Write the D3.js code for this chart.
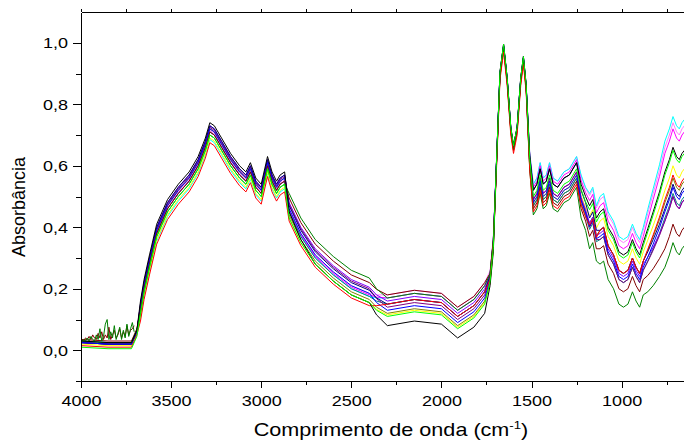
<!DOCTYPE html>
<html lang="pt">
  <head>
    <meta charset="UTF-8" />
    <title>Espectros FTIR</title>
    <script src="https://d3js.org/d3.v7.min.js"></script>
    <style>
      body { margin: 0; background: #fff; }
      svg { display: block; overflow: hidden; }
      .axis path, .axis line { stroke: #000; stroke-width: 1; shape-rendering: crispEdges; }
      .axis text { font-family: 'Liberation Sans', Arial, sans-serif; font-size: 15px; fill: #000; }
      .title { font-family: 'Liberation Sans', Arial, sans-serif; font-size: 18px; fill: #000; }
      .spectrum { fill: none; stroke-width: 1; }
    </style>
  </head>
  <body>
    <div id="chart"></div>
    <script>
      // wavenumber grid (cm-1), shared by every spectrum
      const wavenumbers = [4000, 3850, 3720, 3690, 3670, 3650, 3620, 3580, 3520, 3460, 3400, 3350, 3310, 3285, 3260, 3220, 3170, 3120, 3085, 3060, 3030, 3000, 2965, 2940, 2915, 2895, 2870,
        2845, 2780, 2700, 2600, 2500, 2400, 2360, 2300, 2150, 2000, 1910, 1820, 1760, 1730, 1712,
        1695, 1675, 1655, 1635, 1615, 1600, 1580, 1560, 1545, 1530,
        1510, 1490, 1470, 1452, 1435, 1418, 1400, 1380, 1355, 1320, 1290, 1250,
        1225, 1200, 1178, 1160, 1140,
        1120, 1100, 1075, 1045, 1015, 990, 965, 940, 920, 900, 880,
        855, 825, 790, 760, 735, 715, 695, 680, 665, 652];

      // absorbance of each sample
      const absBlack = [.03,.025,.025,.065,.16,.23,.31,.41,.49,.54,.58,.63,.69,.74,.73,.69,.64,.60,.58,.61,.56,.54,.63,.58,.55,.57,.58,
        .45,.36,.28,.225,.18,.155,.115,.08,.095,.085,.04,.075,.12,.21,.32,
        .605,.905,.995,.885,.725,.665,.725,.885,.955,.865,
        .633,.52,.54,.59,.54,.55,.59,.54,.53,.56,.57,.61,
        .54,.50,.47,.49,.43,
        .45,.46,.40,.37,.32,.31,.32,.36,.33,.31,.35,
        .395,.45,.515,.58,.62,.66,.63,.62,.64,.65];
      const absRed = [.015,.01,.01,.05,.095,.165,.245,.345,.425,.475,.515,.565,.625,.675,.665,.625,.575,.535,.515,.545,.495,.475,.565,.515,.485,.505,.515,
        .42,.34,.27,.215,.17,.145,.145,.15,.165,.155,.11,.145,.19,.23,.34,
        .58,.88,.97,.86,.70,.64,.70,.86,.93,.84,
        .585,.45,.47,.52,.47,.48,.52,.47,.46,.49,.50,.54,
        .473,.433,.407,.427,.367,
        .39,.40,.34,.31,.26,.25,.26,.30,.27,.25,.29,
        .328,.375,.433,.49,.53,.57,.54,.53,.55,.56];
      const absLime = [.01,.005,.005,.045,.12,.19,.27,.37,.45,.50,.54,.59,.65,.70,.69,.65,.60,.56,.54,.57,.52,.50,.59,.54,.51,.53,.54,
        .43,.35,.28,.225,.18,.155,.13,.11,.125,.115,.07,.105,.15,.223,.333,
        .605,.905,.995,.885,.725,.665,.725,.885,.955,.865,
        .623,.50,.52,.57,.52,.53,.57,.52,.51,.54,.55,.59,
        .523,.483,.457,.477,.417,
        .44,.45,.39,.36,.31,.30,.31,.35,.32,.30,.34,
        .385,.44,.505,.57,.61,.65,.62,.61,.63,.64];
      const absBlue = [.025,.02,.02,.06,.14,.21,.29,.39,.47,.52,.56,.61,.67,.72,.71,.67,.62,.58,.56,.59,.54,.52,.61,.56,.53,.55,.56,
        .46,.38,.31,.255,.21,.185,.155,.13,.145,.135,.09,.125,.17,.23,.34,
        .60,.90,.99,.88,.72,.66,.72,.88,.95,.86,
        .61,.48,.50,.55,.50,.51,.55,.50,.49,.52,.53,.57,
        .487,.447,.403,.423,.363,
        .37,.38,.32,.29,.24,.23,.24,.28,.25,.23,.27,
        .303,.345,.398,.45,.49,.53,.50,.49,.51,.52];
      const absCyan = [.03,.025,.025,.065,.105,.175,.255,.355,.435,.485,.525,.575,.635,.685,.675,.635,.585,.545,.525,.555,.505,.485,.575,.525,.495,.515,.525,
        .45,.37,.30,.245,.20,.175,.17,.17,.185,.175,.13,.165,.21,.25,.36,
        .60,.90,.99,.88,.72,.66,.72,.88,.95,.86,
        .64,.54,.56,.61,.56,.57,.61,.56,.55,.58,.59,.63,
        .57,.53,.51,.53,.47,
        .50,.51,.45,.42,.37,.36,.37,.41,.38,.36,.40,
        .458,.525,.603,.68,.72,.76,.73,.72,.74,.75];
      const absMagenta = [.025,.02,.02,.06,.13,.20,.28,.38,.46,.51,.55,.60,.66,.71,.70,.66,.61,.57,.55,.58,.53,.51,.60,.55,.52,.54,.55,
        .455,.375,.305,.25,.205,.18,.173,.17,.185,.175,.13,.165,.21,.25,.36,
        .60,.90,.99,.88,.72,.66,.72,.88,.95,.86,
        .635,.53,.55,.60,.55,.56,.60,.55,.54,.57,.58,.62,
        .553,.513,.487,.507,.447,
        .47,.48,.42,.39,.34,.33,.34,.38,.35,.33,.37,
        .425,.49,.565,.64,.68,.72,.69,.68,.70,.71];
      const absYellow = [.02,.015,.015,.055,.11,.18,.26,.36,.44,.49,.53,.58,.64,.69,.68,.64,.59,.55,.53,.56,.51,.49,.58,.53,.50,.52,.53,
        .43,.35,.28,.225,.18,.155,.133,.115,.13,.12,.075,.11,.155,.218,.328,
        .59,.89,.98,.87,.71,.65,.71,.87,.94,.85,
        .605,.48,.50,.55,.50,.51,.55,.50,.49,.52,.53,.57,
        .503,.463,.437,.457,.397,
        .42,.43,.37,.34,.29,.28,.29,.33,.30,.28,.32,
        .358,.405,.463,.52,.56,.60,.57,.56,.58,.59];
      const absOlive = [.025,.02,.02,.06,.14,.21,.29,.39,.47,.52,.56,.61,.67,.72,.71,.67,.62,.58,.56,.59,.54,.52,.61,.56,.53,.55,.56,
        .44,.36,.29,.235,.19,.165,.14,.12,.135,.125,.08,.115,.16,.223,.333,
        .595,.895,.985,.875,.715,.655,.715,.875,.945,.855,
        .603,.47,.49,.54,.49,.50,.54,.49,.48,.51,.52,.56,
        .487,.447,.413,.433,.373,
        .39,.40,.34,.31,.26,.25,.26,.30,.27,.25,.29,
        .325,.37,.425,.48,.52,.56,.53,.52,.54,.55];
      const absNavy = [.025,.02,.02,.06,.15,.22,.30,.40,.48,.53,.57,.62,.68,.73,.72,.68,.63,.59,.57,.60,.55,.53,.62,.57,.54,.56,.57,
        .47,.39,.32,.265,.22,.195,.17,.15,.165,.155,.11,.145,.19,.243,.353,
        .605,.905,.995,.885,.725,.665,.725,.885,.955,.865,
        .633,.52,.54,.59,.54,.55,.59,.54,.53,.56,.57,.61,
        .52,.48,.43,.45,.39,
        .39,.40,.34,.31,.26,.25,.26,.30,.27,.25,.29,
        .32,.36,.41,.46,.50,.54,.51,.50,.52,.53];
      const absPurple = [.025,.02,.02,.06,.145,.215,.295,.395,.475,.525,.565,.615,.675,.725,.715,.675,.625,.585,.565,.595,.545,.525,.615,.565,.535,.555,.565,
        .475,.395,.325,.27,.225,.20,.168,.14,.155,.145,.10,.135,.18,.235,.345,
        .60,.90,.99,.88,.72,.66,.72,.88,.95,.86,
        .615,.49,.51,.56,.51,.52,.56,.51,.50,.53,.54,.58,
        .49,.45,.40,.42,.36,
        .36,.37,.31,.28,.23,.22,.23,.27,.24,.22,.26,
        .288,.325,.373,.42,.46,.50,.47,.46,.48,.49];
      const absWine = [.035,.03,.03,.07,.13,.20,.28,.38,.46,.51,.55,.60,.66,.71,.70,.66,.61,.57,.55,.58,.53,.51,.60,.55,.52,.54,.55,
        .495,.415,.345,.29,.245,.22,.198,.18,.195,.185,.14,.175,.22,.25,.36,
        .59,.89,.98,.87,.71,.65,.71,.87,.94,.85,
        .595,.46,.48,.53,.48,.49,.53,.48,.47,.50,.51,.55,
        .46,.42,.37,.39,.33,
        .33,.34,.28,.25,.20,.19,.20,.24,.21,.19,.23,
        .243,.265,.298,.33,.37,.41,.38,.37,.39,.40];
      const absDarkGreen = [.03,.025,.025,.065,.12,.19,.27,.37,.45,.50,.54,.59,.65,.70,.69,.65,.60,.56,.54,.57,.52,.50,.59,.54,.51,.53,.54,
        .51,.43,.36,.305,.26,.235,.20,.17,.185,.175,.13,.165,.21,.248,.358,
        .595,.895,.985,.875,.715,.655,.715,.875,.945,.855,
        .588,.44,.46,.51,.46,.47,.51,.46,.45,.48,.49,.53,
        .43,.39,.33,.35,.29,
        .28,.29,.23,.20,.15,.14,.15,.19,.16,.14,.18,
        .19,.21,.24,.27,.31,.35,.32,.31,.33,.34];
      const absTeal = [.025,.02,.02,.06,.13,.20,.28,.38,.46,.51,.55,.60,.66,.71,.70,.66,.61,.57,.55,.58,.53,.51,.60,.55,.52,.54,.55,
        .45,.37,.30,.245,.20,.175,.16,.15,.165,.155,.11,.145,.19,.24,.35,
        .60,.90,.99,.88,.72,.66,.72,.88,.95,.86,
        .605,.47,.49,.54,.49,.50,.54,.49,.48,.51,.52,.56,
        .477,.437,.393,.413,.353,
        .36,.37,.31,.28,.23,.22,.23,.27,.24,.22,.26,
        .29,.33,.38,.43,.47,.51,.48,.47,.49,.50];
      const absViolet = [.025,.02,.02,.06,.15,.22,.30,.40,.48,.53,.57,.62,.68,.73,.72,.68,.63,.59,.57,.60,.55,.53,.62,.57,.54,.56,.57,
        .48,.40,.33,.275,.23,.205,.18,.16,.175,.165,.12,.155,.20,.245,.355,
        .60,.90,.99,.88,.72,.66,.72,.88,.95,.86,
        .615,.49,.51,.56,.51,.52,.56,.51,.50,.53,.54,.58,
        .497,.457,.413,.433,.373,
        .38,.39,.33,.30,.25,.24,.25,.29,.26,.24,.28,
        .303,.335,.378,.42,.46,.50,.47,.46,.48,.49];
      const absPink = [.03,.025,.025,.065,.135,.205,.285,.385,.465,.515,.555,.605,.665,.715,.705,.665,.615,.575,.555,.585,.535,.515,.605,.555,.525,.545,.555,
        .46,.38,.31,.255,.21,.185,.18,.18,.195,.185,.14,.175,.22,.258,.368,
        .605,.905,.995,.885,.725,.665,.725,.885,.955,.865,
        .643,.54,.56,.61,.56,.57,.61,.56,.55,.58,.59,.63,
        .567,.527,.503,.523,.463,
        .49,.50,.44,.41,.36,.35,.36,.40,.37,.35,.39,
        .445,.51,.585,.66,.70,.74,.71,.70,.72,.73];

      // noisy start (4000-3700 cm-1) of the two noisiest samples
      const noiseWavenumbers = [3995, 3985, 3975, 3965, 3955, 3945, 3935, 3925, 3915, 3905, 3895, 3885, 3875, 3865, 3855,
        3845, 3835, 3825, 3815, 3805, 3795, 3785, 3775, 3765, 3755, 3745, 3735, 3725, 3715, 3705];
      const noiseDarkGreen = [.03,.035,.03,.04,.03,.045,.035,.03,.05,.035,.07,.03,.045,.085,.10,
        .035,.06,.04,.08,.035,.055,.075,.035,.065,.04,.085,.045,.07,.09,.06];
      const noiseWine = [.035,.03,.04,.035,.045,.035,.05,.04,.035,.055,.04,.06,.035,.05,.04,
        .075,.035,.05,.065,.04,.05,.07,.04,.06,.045,.08,.05,.065,.07,.08];

      const yMajorTicks = [0, 0.2, 0.4, 0.6, 0.8, 1.0];
      const yMinorTicks = [-0.1, 0.1, 0.3, 0.5, 0.7, 0.9];
      const xMajorTicks = [4000, 3500, 3000, 2500, 2000, 1500, 1000];
      const xMinorTicks = [3750, 3250, 2750, 2250, 1750, 1250, 750];

      // drawing order: last one ends on top
      const series = [
        { color: '#ff80ff', values: absPink },
        { color: '#00ffff', values: absCyan },
        { color: '#ff00ff', values: absMagenta },
        { color: '#ffff00', values: absYellow },
        { color: '#808000', values: absOlive },
        { color: '#008080', values: absTeal },
        { color: '#8000ff', values: absViolet },
        { color: '#800080', values: absPurple },
        { color: '#000080', values: absNavy },
        { color: '#0000ff', values: absBlue },
        { color: '#800000', values: absWine, noise: noiseWine },
        { color: '#008000', values: absDarkGreen, noise: noiseDarkGreen },
        { color: '#ff0000', values: absRed },
        { color: '#000000', values: absBlack },
        { color: '#00ff00', values: absLime },
      ];

      const svgWidth = 684;
      const svgHeight = 442;
      const plotLeft = 81;
      const plotTop = 12;
      const plotBottom = 381;
      // the original figure is a bit stretched sideways, so is its lettering
      const stretch = 1.2;

      const svg = d3.select('#chart').append('svg')
        .attr('width', svgWidth)
        .attr('height', svgHeight);

      const x = d3.scaleLinear().domain([4000, 650]).range([plotLeft, 684.7]);
      const y = d3.scaleLinear().domain([-0.1, 1.1]).range([plotBottom, plotTop]);

      const line = d3.line()
        .x((d) => x(d[0]))
        .y((d) => y(d[1]));

      // spectra
      const lines = svg.append('g');
      series.forEach(function (s) {
        lines.append('path')
          .attr('class', 'spectrum')
          .attr('stroke', s.color)
          .attr('d', line(d3.zip(wavenumbers, s.values)));
        if (s.noise) {
          lines.append('path')
            .attr('class', 'spectrum')
            .attr('stroke', s.color)
            .attr('d', line(d3.zip(noiseWavenumbers, s.noise)));
        }
      });

      const comma = (d) => d.toFixed(1).replace('.', ',');

      // y axis
      svg.append('g')
        .attr('class', 'axis')
        .attr('transform', `translate(${plotLeft},0)`)
        .call(d3.axisLeft(y).tickValues(yMajorTicks).tickFormat(comma)
          .tickSize(8).tickPadding(5).tickSizeOuter(0));
      svg.append('g')
        .attr('class', 'axis')
        .attr('transform', `translate(${plotLeft},0)`)
        .call(d3.axisLeft(y).tickValues(yMinorTicks).tickFormat('').tickSize(5))
        .select('.domain').remove();

      // x axis
      svg.append('g')
        .attr('class', 'axis')
        .attr('transform', `translate(0,${plotBottom})`)
        .call(d3.axisBottom(x).tickValues(xMajorTicks).tickFormat(d3.format('d'))
          .tickSize(7).tickPadding(7).tickSizeOuter(0));
      svg.append('g')
        .attr('class', 'axis')
        .attr('transform', `translate(0,${plotBottom})`)
        .call(d3.axisBottom(x).tickValues(xMinorTicks).tickFormat('').tickSize(4))
        .select('.domain').remove();

      // top frame with small ticks
      svg.append('g')
        .attr('class', 'axis')
        .attr('transform', `translate(0,${plotTop})`)
        .call(d3.axisTop(x).tickValues(xMajorTicks.concat(xMinorTicks)).tickFormat('')
          .tickSize(3).tickSizeOuter(0));

      // widen tick labels
      svg.selectAll('.axis text').each(function () {
        const w = this.getComputedTextLength();
        d3.select(this)
          .attr('textLength', w * stretch)
          .attr('lengthAdjust', 'spacingAndGlyphs');
      });

      // axis titles
      svg.append('text')
        .attr('class', 'title')
        .attr('transform', 'translate(25,207) rotate(-90)')
        .attr('text-anchor', 'middle')
        .text('Absorbância');

      const xTitle = svg.append('text')
        .attr('class', 'title')
        .attr('transform', `translate(391,436) scale(${stretch},1)`)
        .attr('text-anchor', 'middle');
      xTitle.append('tspan').text('Comprimento de onda (cm');
      xTitle.append('tspan').attr('dy', -7).style('font-size', '11px').text('-1');
      xTitle.append('tspan').attr('dy', 7).text(')');
    </script>
  </body>
</html>
